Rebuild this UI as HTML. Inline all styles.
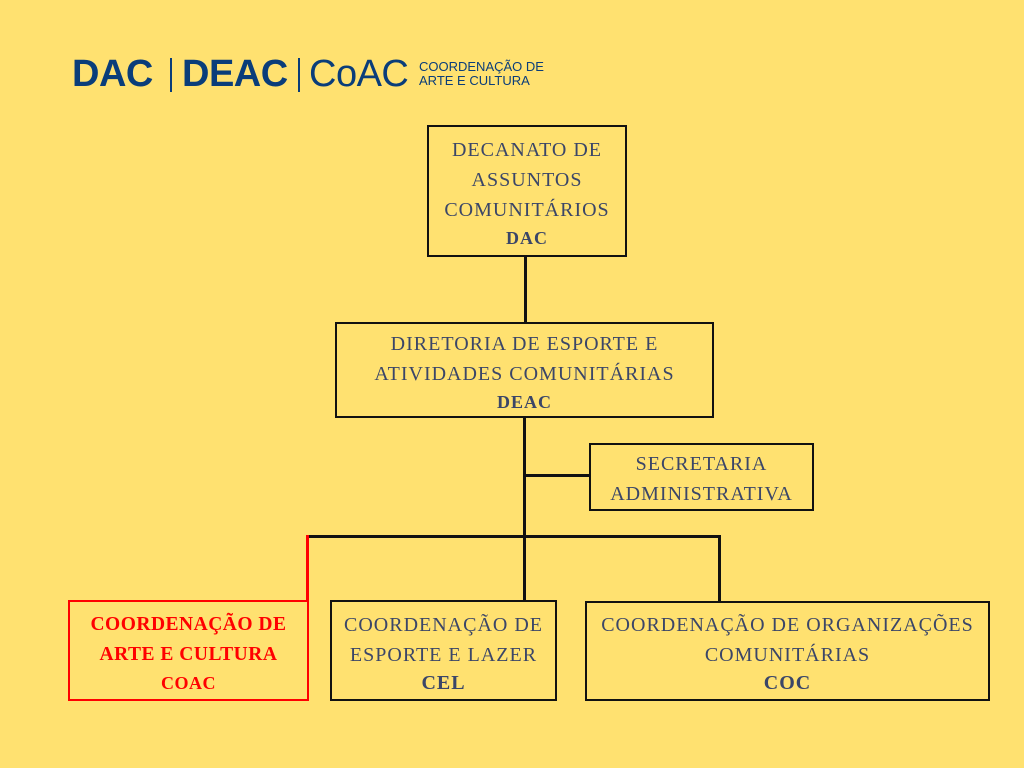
<!DOCTYPE html>
<html><head><meta charset="utf-8"><style>
body{margin:0;width:1024px;height:768px;background:#FFE170;position:relative;overflow:hidden;font-family:"Liberation Serif",serif}
.b{position:absolute;box-sizing:border-box;border:2.5px solid #111;color:#3b4668;text-align:center;font-size:20px;letter-spacing:1px;line-height:30px;display:flex;flex-direction:column;justify-content:center;padding-top:4px}
.b b{font-size:18px;line-height:26px}
.l{position:absolute;background:#111}
.logo{position:absolute;font-family:"Liberation Sans",sans-serif;color:#0a3d7a}
</style></head><body>
<div class="logo" style="left:72px;top:53px;font-size:38px;font-weight:bold;letter-spacing:-0.5px">DAC</div>
<div class="logo" style="left:170px;top:58px;width:2px;height:34px;background:#0a3d7a"></div>
<div class="logo" style="left:182px;top:53px;font-size:38px;font-weight:bold;letter-spacing:-0.5px">DEAC</div>
<div class="logo" style="left:298px;top:58px;width:2px;height:34px;background:#0a3d7a"></div>
<div class="logo" style="left:309px;top:53px;font-size:38px;letter-spacing:-0.5px">CoAC</div>
<div class="logo" style="left:419px;top:60px;font-size:13px;line-height:14px">COORDENAÇÃO DE<br>ARTE E CULTURA</div>

<div class="l" style="left:524px;top:256px;width:3px;height:66px"></div>
<div class="l" style="left:523px;top:417px;width:3px;height:184px"></div>
<div class="l" style="left:525px;top:474px;width:64px;height:3px"></div>
<div class="l" style="left:307px;top:535px;width:414px;height:3px"></div>
<div class="l" style="left:306px;top:535px;width:3px;height:66px;background:#f00"></div>
<div class="l" style="left:718px;top:535px;width:3px;height:66px"></div>

<div class="b" style="left:427px;top:125px;width:200px;height:132px">DECANATO DE<br>ASSUNTOS<br>COMUNITÁRIOS<b>DAC</b></div>
<div class="b" style="left:335px;top:322px;width:379px;height:96px">DIRETORIA DE ESPORTE E<br>ATIVIDADES COMUNITÁRIAS<b>DEAC</b></div>
<div class="b" style="left:589px;top:443px;width:225px;height:68px">SECRETARIA<br>ADMINISTRATIVA</div>
<div class="b" style="left:68px;top:600px;width:241px;height:101px;border-color:#f00;color:#f00;font-weight:bold;font-size:19.5px;letter-spacing:0.5px"><span>COORDENAÇÃO DE<br>ARTE E CULTURA</span><b>COAC</b></div>
<div class="b" style="left:330px;top:600px;width:227px;height:101px">COORDENAÇÃO DE<br>ESPORTE E LAZER<b style="font-size:20px">CEL</b></div>
<div class="b" style="left:585px;top:601px;width:405px;height:100px">COORDENAÇÃO DE ORGANIZAÇÕES<br>COMUNITÁRIAS<b style="font-size:20px">COC</b></div>
</body></html>
